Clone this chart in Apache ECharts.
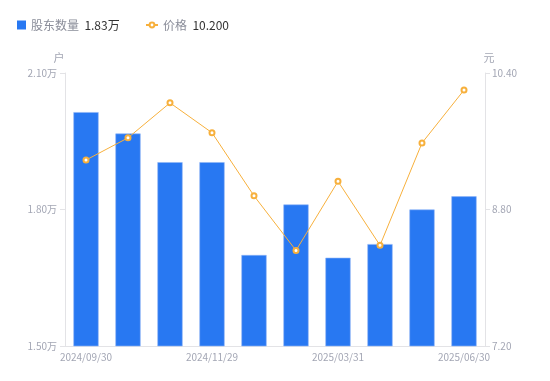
<!DOCTYPE html>
<html>
<head>
<meta charset="utf-8">
<script src="https://cdn.jsdelivr.net/npm/echarts@6/dist/echarts.min.js"></script>
<style>html,body{margin:0;padding:0;background:#fff}#c{width:550px;height:381px}</style>
</head>
<body>
<div id="c"></div>
<script>
const categories = ['2024/09/30','2024/10/18','2024/10/31','2024/11/29','2024/12/31','2025/02/28','2025/03/31','2025/04/30','2025/05/30','2025/06/30'];
const holders = [2.014, 1.967, 1.904, 1.904, 1.700, 1.811, 1.694, 1.724, 1.800, 1.829];
const prices = [9.38, 9.64, 10.05, 9.70, 8.96, 8.32, 9.13, 8.38, 9.58, 10.20];
const leftTicks = [1.5, 1.8, 2.1];
const rightTicks = [7.2, 8.8, 10.4];
const legendValues = {'股东数量': '1.83万', '价格': '10.200'};

const font = "'Noto Sans CJK SC', 'Noto Sans', sans-serif";
const labelColor = '#a3a6b4';
const axisLineColor = '#e3e3e6';
const legendText = {
  fontFamily: font,
  rich: {
    a: {color: '#8a8d99', fontSize: 12, fontFamily: font},
    b: {color: '#333', fontSize: 12, fontFamily: font}
  }
};
const fmt = n => `{a|${n}}  {b|${legendValues[n]}}`;
const chart = echarts.init(document.getElementById('c'));
chart.setOption({
  animation: false,
  textStyle: {fontFamily: font},
  legend: [{
    left: 12, top: 14,
    itemWidth: 9, itemHeight: 9,
    data: [{name: '股东数量', icon: 'rect', itemStyle: {borderWidth: 0}}],
    formatter: fmt, textStyle: legendText
  }, {
    left: 140, top: 14,
    itemWidth: 12, itemHeight: 6, itemGap: 4,
    data: [{name: '价格'}],
    formatter: fmt, textStyle: legendText
  }],
  grid: {left: 65, right: 65, top: 73, bottom: 35},
  xAxis: {
    type: 'category',
    data: categories,
    axisLine: {lineStyle: {color: axisLineColor}},
    axisTick: {show: false},
    axisLabel: {interval: 2, color: labelColor, fontSize: 10, margin: 6, fontFamily: font}
  },
  yAxis: [{
    type: 'value', min: 1.5, max: 2.1,
    name: '户', nameGap: 10,
    nameTextStyle: {color: labelColor, fontSize: 11, padding: [0, 12, 0, 0]},
    axisLine: {show: true, lineStyle: {color: axisLineColor}},
    axisTick: {show: true, length: 5, lineStyle: {color: axisLineColor}, customValues: leftTicks},
    splitLine: {show: false},
    axisLabel: {color: labelColor, fontSize: 10, margin: 8, customValues: leftTicks, formatter: v => v.toFixed(2) + '万'}
  }, {
    type: 'value', min: 7.2, max: 10.4,
    name: '元', nameGap: 10,
    nameTextStyle: {color: labelColor, fontSize: 11, padding: [0, 0, 0, 8]},
    axisLine: {show: true, lineStyle: {color: axisLineColor}},
    axisTick: {show: true, length: 5, lineStyle: {color: axisLineColor}, customValues: rightTicks},
    splitLine: {show: false},
    axisLabel: {color: labelColor, fontSize: 10, margin: 7, customValues: rightTicks, formatter: v => v.toFixed(2)}
  }],
  series: [{
    name: '股东数量', type: 'bar', data: holders, barWidth: '60%',
    itemStyle: {color: '#2878f2', borderColor: '#8fb6f7', borderWidth: 0.6}
  }, {
    name: '价格', type: 'line', yAxisIndex: 1, data: prices,
    symbol: 'emptyCircle', symbolSize: 5,
    lineStyle: {color: '#f7b03c', width: 1},
    itemStyle: {color: '#f7b03c', borderWidth: 2}
  }]
});
</script>
</body>
</html>
